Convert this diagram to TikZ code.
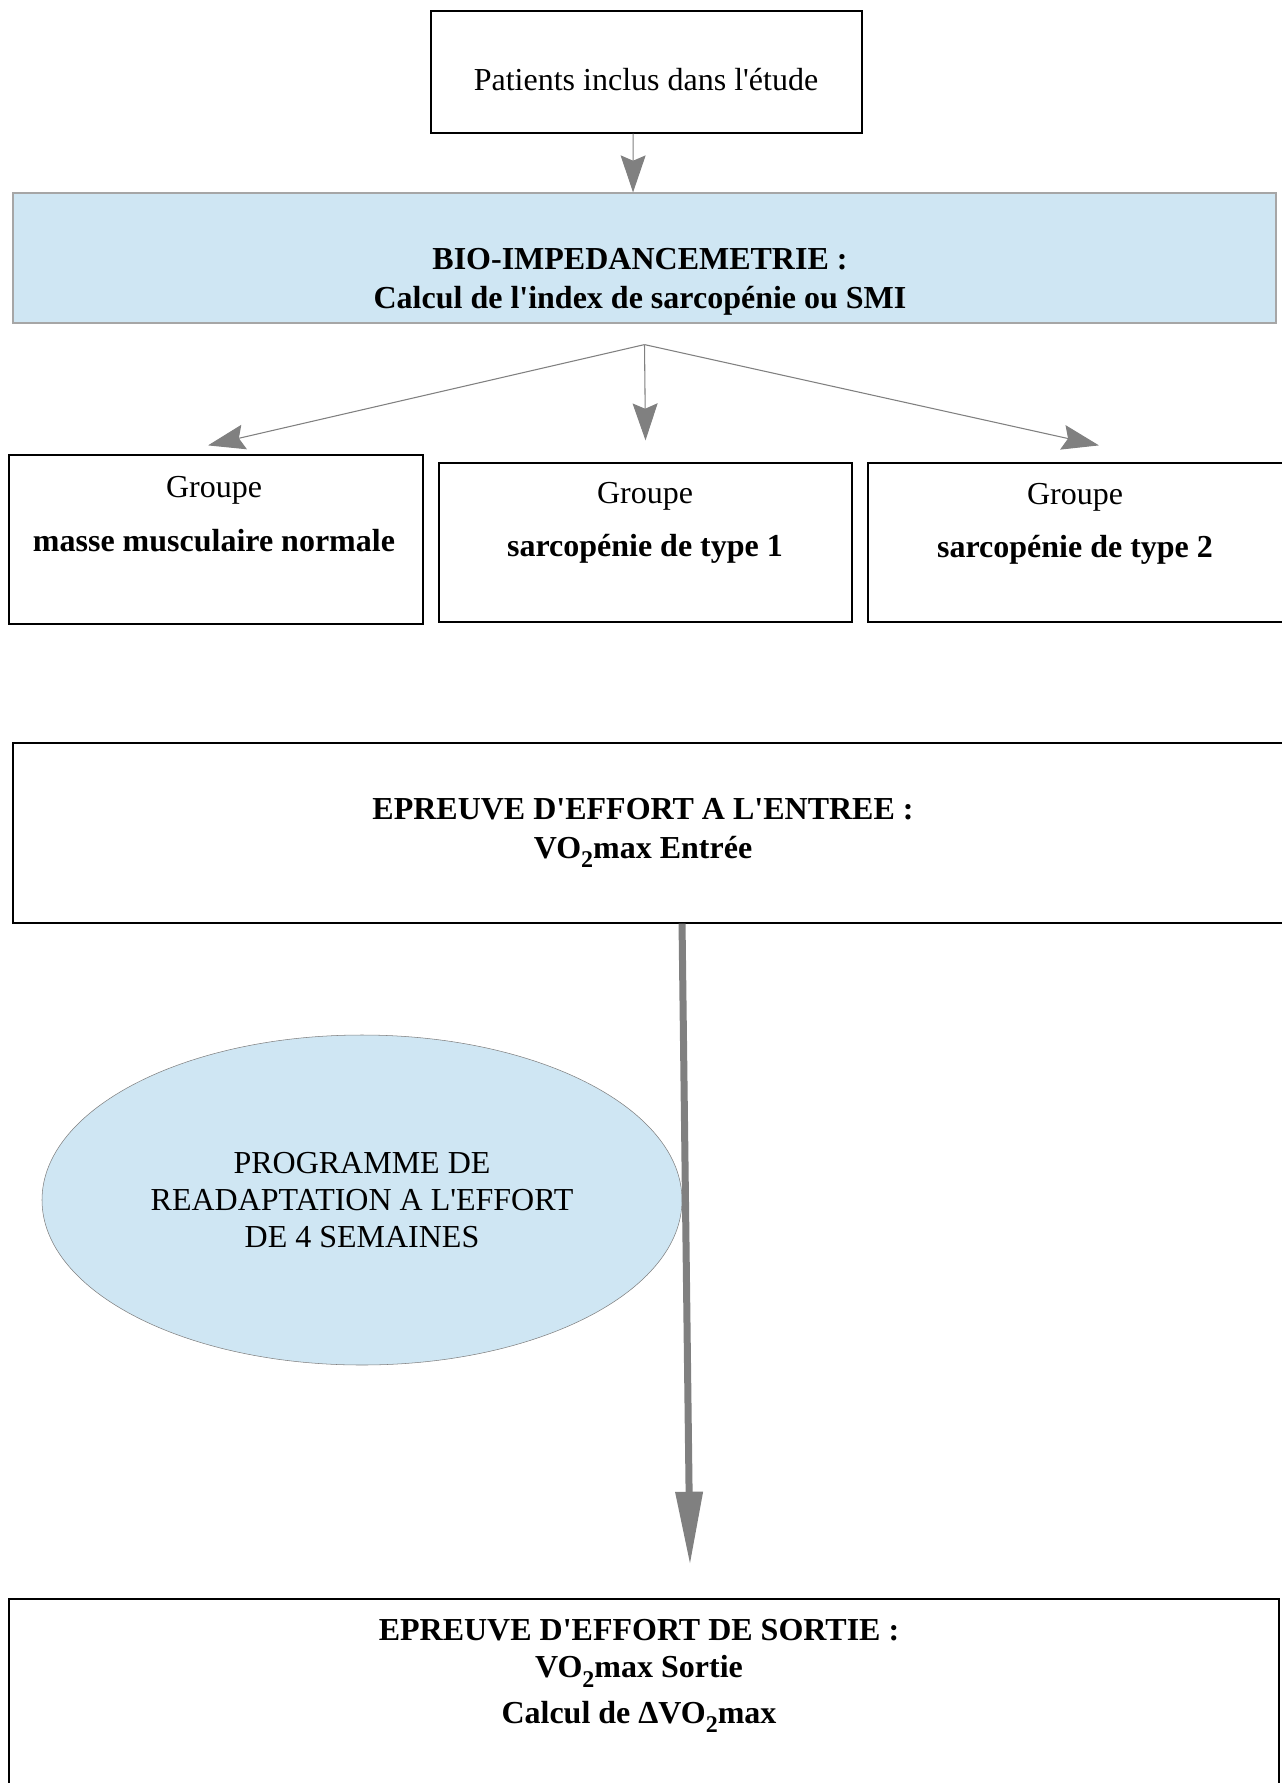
\documentclass[tikz,border=0pt]{standalone}
\usepackage{fontspec}
\setmainfont{Liberation Serif}[Ligatures=TeXOff]
\usepackage{tikz}
\usetikzlibrary{arrows.meta,shapes.geometric}

\definecolor{paleblue}{HTML}{CFE6F3}
\definecolor{arrowgray}{HTML}{808080}
\newcommand\bigfont{\fontsize{24}{29}\selectfont}
\newcommand\subtwo{\raisebox{-0.3em}{\fontsize{18}{18}\selectfont 2}}

\begin{document}
\begin{tikzpicture}[x=0.75pt,y=-0.75pt,
  frame/.style={draw=black,line width=0.9pt,rectangle,inner sep=0pt},
  txt/.style={align=center,inner sep=0pt,font=\bigfont},
  btxt/.style={txt,font=\bigfont\bfseries},
  arr/.style={draw=arrowgray,line width=0.8pt,-{Stealth[width=18.75pt,length=27.75pt,inset=4pt]}},
  bigarr/.style={draw=arrowgray,line width=5.25pt,-{Triangle[width=19.5pt,length=55pt]}}]
\useasboundingbox (0,0) rectangle (1281,1783);

\node[frame,minimum width=431*0.75pt,minimum height=122*0.75pt] (patients) at (646.5,72) {};
\node[txt] (patientstxt) at (646,80) {Patients inclus dans l'étude};

\node[frame,draw=gray!70,fill=paleblue,minimum width=1263*0.75pt,minimum height=130*0.75pt] (bio) at (644.5,258) {};
\node[btxt] (biotxt) at (640,281.5) {BIO-IMPEDANCEMETRIE :\\Calcul de l'index de sarcopénie ou SMI};

\draw[arr] ([xshift=-10pt]patients.south) -- ([xshift=-8.6pt]bio.north);

% les trois groupes
\node[frame,minimum width=414*0.75pt,minimum height=169*0.75pt] (g1) at (216,539.5) {};
\node[frame,minimum width=413*0.75pt,minimum height=159*0.75pt] (g2) at (645.5,542.5) {};
\node[frame,minimum width=415*0.75pt,minimum height=159*0.75pt] (g3) at (1075.5,542.5) {};
\foreach \g/\x/\y/\t in {g1/214/514/masse musculaire normale, g2/645/523/sarcopénie de type 1,
                         g3/1075/524/sarcopénie de type 2}
  \node[txt] (\g txt) at (\x,\y) {Groupe\\[11pt]\textbf{\t}};

\coordinate (fork) at ([yshift=-15.75pt]bio.south);
\foreach \g/\dx/\dy in {g1/-6/6.75, g2/0/16.5, g3/17.6/12.75}
  \draw[arr] (fork) -- ([xshift=\dx pt,yshift=\dy pt]\g.north);

\node[frame,minimum width=1277*0.75pt,minimum height=180*0.75pt] (entree) at (651.5,833) {};
\node[btxt] (entreetxt) at (643,833) {EPREUVE D'EFFORT A L'ENTREE :\\VO\subtwo max Entrée};

\node[ellipse,draw=gray,fill=paleblue,inner sep=0pt,minimum width=640*0.75pt,minimum height=330*0.75pt,
      align=center,font=\fontsize{24}{28}\selectfont] (prog) at (362,1200)
      {PROGRAMME DE\\READAPTATION A L'EFFORT\\DE 4 SEMAINES};

\node[frame,minimum width=1270*0.75pt,minimum height=201*0.75pt] (sortie) at (644,1699.5) {};
\node[btxt,font=\fontsize{24}{28}\selectfont\bfseries] (sortietxt) at (639,1676)
      {EPREUVE D'EFFORT DE SORTIE :\\VO\subtwo max Sortie\\[6pt]Calcul de ΔVO\subtwo max};

\draw[bigarr] ([xshift=22.9pt]entree.south) -- ([xshift=34.5pt,yshift=25pt]sortie.north);

\end{tikzpicture}
\end{document}
